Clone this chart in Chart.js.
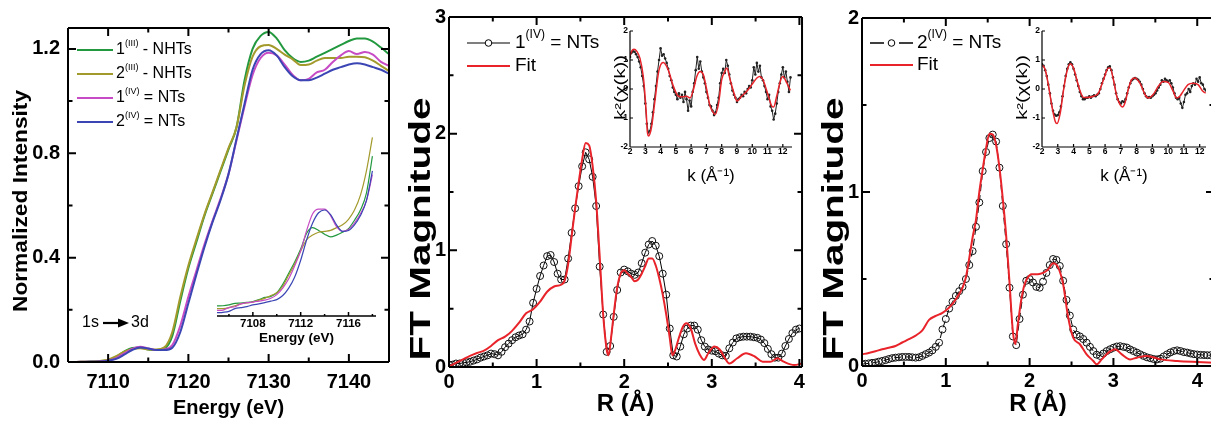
<!DOCTYPE html>
<html>
<head>
<meta charset="utf-8">
<script src="https://cdn.jsdelivr.net/npm/chart.js@4.4.1/dist/chart.umd.min.js"></script>
<style>
  html, body { margin: 0; padding: 0; background: #fff; width: 1211px; height: 421px; overflow: hidden; position: relative; }
  canvas { position: absolute; }
</style>
</head>
<body>
<canvas id="c1" width="398" height="421" style="left:0;top:0"></canvas>
<canvas id="c2" width="408" height="421" style="left:400px;top:0"></canvas>
<canvas id="c3" width="414" height="421" style="left:806px;top:0"></canvas>
<canvas id="c1i" width="190" height="230" style="left:200px;top:120px"></canvas>
<canvas id="c2i" width="210" height="175" style="left:590px;top:20px"></canvas>
<canvas id="c3i" width="215" height="175" style="left:1000px;top:20px"></canvas>
<script>
// ---- panel 1: XANES, normalized intensity vs energy (eV)
const energy = [7105, 7106, 7107, 7108, 7109, 7110, 7111, 7112, 7113, 7114, 7115, 7116, 7117, 7118, 7119, 7120,
  7121, 7122, 7123, 7124, 7125, 7126, 7127, 7128, 7129, 7130, 7131, 7132, 7133, 7134, 7135, 7136, 7137, 7138,
  7139, 7140, 7141, 7142, 7143, 7144, 7145];
const nhts1 = [0.000, 0.000, 0.001, 0.002, 0.003, 0.008, 0.020, 0.040, 0.054, 0.056, 0.048, 0.046, 0.051, 0.100,
  0.235, 0.360, 0.460, 0.560, 0.645, 0.730, 0.815, 0.900, 1.080, 1.200, 1.250, 1.265, 1.240, 1.195, 1.165, 1.150,
  1.155, 1.170, 1.185, 1.200, 1.215, 1.230, 1.240, 1.240, 1.228, 1.205, 1.180];
const nhts2 = [0.000, 0.000, 0.001, 0.002, 0.004, 0.009, 0.022, 0.040, 0.050, 0.053, 0.048, 0.048, 0.056, 0.115,
  0.250, 0.370, 0.470, 0.565, 0.650, 0.735, 0.820, 0.900, 1.060, 1.170, 1.210, 1.215, 1.200, 1.178, 1.160, 1.138,
  1.140, 1.155, 1.165, 1.165, 1.165, 1.170, 1.170, 1.168, 1.155, 1.135, 1.115];
const nts1 = [0.000, 0.000, 0.001, 0.001, 0.002, 0.006, 0.015, 0.033, 0.050, 0.058, 0.052, 0.046, 0.048, 0.065,
  0.140, 0.250, 0.350, 0.450, 0.540, 0.625, 0.720, 0.850, 0.980, 1.100, 1.165, 1.185, 1.175, 1.140, 1.100, 1.080,
  1.085, 1.110, 1.120, 1.150, 1.175, 1.192, 1.180, 1.188, 1.178, 1.150, 1.135];
const nts2 = [0.000, 0.000, 0.000, 0.001, 0.002, 0.005, 0.012, 0.028, 0.046, 0.056, 0.052, 0.046, 0.046, 0.055,
  0.115, 0.225, 0.335, 0.440, 0.535, 0.620, 0.720, 0.855, 0.990, 1.120, 1.180, 1.195, 1.175, 1.130, 1.095, 1.080,
  1.080, 1.090, 1.105, 1.120, 1.130, 1.140, 1.145, 1.140, 1.130, 1.120, 1.105];
const energyTicks = [7110, 7120, 7130, 7140];
const intensityTicks = [0, 0.4, 0.8, 1.2];

// panel 1 inset: pre-edge region
const preEnergy = [7105, 7105.5, 7106, 7106.5, 7107, 7107.5, 7108, 7108.5, 7109, 7109.5, 7110, 7110.5, 7111,
  7111.5, 7112, 7112.5, 7113, 7113.5, 7114, 7114.5, 7115, 7115.5, 7116, 7116.5, 7117, 7117.5, 7118];
const preNhts1 = [0.0054, 0.0055, 0.006, 0.0068, 0.007, 0.0073, 0.0078, 0.0088, 0.010, 0.0105, 0.0125, 0.017,
  0.023, 0.029, 0.036, 0.0445, 0.0475, 0.046, 0.044, 0.0425, 0.0435, 0.045, 0.047, 0.0515, 0.057, 0.066, 0.086];
const preNhts2 = [0.004, 0.004, 0.0045, 0.0055, 0.0065, 0.007, 0.0075, 0.0085, 0.0095, 0.011, 0.0125, 0.016,
  0.022, 0.028, 0.035, 0.041, 0.0435, 0.045, 0.0455, 0.046, 0.0475, 0.049, 0.052, 0.057, 0.065, 0.078, 0.096];
const preNts1 = [0.003, 0.0032, 0.0045, 0.005, 0.0065, 0.0072, 0.0075, 0.008, 0.0085, 0.0095, 0.0115, 0.015,
  0.020, 0.027, 0.035, 0.046, 0.055, 0.0575, 0.0575, 0.054, 0.048, 0.0455, 0.0465, 0.050, 0.055, 0.062, 0.076];
const preNts2 = [0.0018, 0.002, 0.0025, 0.004, 0.0045, 0.005, 0.006, 0.0065, 0.0072, 0.008, 0.0088, 0.011,
  0.015, 0.021, 0.030, 0.041, 0.050, 0.0555, 0.057, 0.0545, 0.049, 0.0455, 0.046, 0.049, 0.054, 0.062, 0.078];
const preTicks = [7108, 7112, 7116];

// ---- panels 2 and 3: FT magnitude vs R (Å)
const rGrid = [0, 0.04, 0.08, 0.12, 0.16, 0.2, 0.24, 0.28, 0.32, 0.36, 0.4, 0.44, 0.48, 0.52, 0.56, 0.6, 0.64,
  0.68, 0.72, 0.76, 0.8, 0.84, 0.88, 0.92, 0.96, 1, 1.04, 1.08, 1.12, 1.16, 1.2, 1.24, 1.28, 1.32, 1.36, 1.4, 1.44,
  1.48, 1.52, 1.56, 1.6, 1.64, 1.68, 1.72, 1.76, 1.8, 1.84, 1.88, 1.92, 1.96, 2, 2.04, 2.08, 2.12, 2.16, 2.2, 2.24,
  2.28, 2.32, 2.36, 2.4, 2.44, 2.48, 2.52, 2.56, 2.6, 2.64, 2.68, 2.72, 2.76, 2.8, 2.84, 2.88, 2.92, 2.96, 3, 3.04,
  3.08, 3.12, 3.16, 3.2, 3.24, 3.28, 3.32, 3.36, 3.4, 3.44, 3.48, 3.52, 3.56, 3.6, 3.64, 3.68, 3.72, 3.76, 3.8,
  3.84, 3.88, 3.92, 3.96, 4, 4.04, 4.08, 4.12, 4.16];
const ftNts1 = [0.02, 0.02, 0.03, 0.03, 0.035, 0.04, 0.045, 0.055, 0.065, 0.08, 0.09, 0.1, 0.115, 0.11, 0.1, 0.13,
  0.17, 0.2, 0.23, 0.255, 0.27, 0.28, 0.32, 0.39, 0.55, 0.67, 0.78, 0.87, 0.95, 0.96, 0.9, 0.8, 0.75, 0.75, 0.93,
  1.15, 1.36, 1.55, 1.72, 1.84, 1.78, 1.63, 1.38, 0.86, 0.45, 0.13, 0.18, 0.43, 0.66, 0.81, 0.835, 0.82, 0.8,
  0.79, 0.81, 0.89, 0.98, 1.05, 1.08, 1.04, 0.95, 0.8, 0.62, 0.33, 0.1, 0.09, 0.175, 0.28, 0.33, 0.355, 0.355,
  0.32, 0.23, 0.175, 0.15, 0.14, 0.135, 0.115, 0.1, 0.095, 0.16, 0.21, 0.245, 0.255, 0.26, 0.26, 0.26, 0.255,
  0.25, 0.235, 0.205, 0.155, 0.11, 0.08, 0.08, 0.115, 0.18, 0.24, 0.29, 0.32, 0.33];
const fitR1 = [0, 0.08, 0.16, 0.24, 0.32, 0.40, 0.48, 0.56, 0.64, 0.72, 0.80, 0.88, 0.96, 1.04, 1.12, 1.20, 1.28,
  1.32, 1.36, 1.40, 1.44, 1.48, 1.52, 1.56, 1.60, 1.64, 1.68, 1.72, 1.76, 1.80, 1.82, 1.85, 1.88, 1.92, 1.96, 2.00,
  2.04, 2.08, 2.12, 2.16, 2.20, 2.24, 2.28, 2.32, 2.36, 2.40, 2.44, 2.48, 2.52, 2.55, 2.58, 2.62, 2.67, 2.71, 2.76,
  2.81, 2.86, 2.91, 2.96, 3.03, 3.09, 3.15, 3.20, 3.29, 3.39, 3.49, 3.58, 3.67, 3.75, 3.82, 3.94, 4.03];
const fitM1 = [0.005, 0.035, 0.065, 0.095, 0.12, 0.14, 0.18, 0.23, 0.26, 0.31, 0.38, 0.46, 0.495, 0.56, 0.645,
  0.69, 0.705, 0.74, 0.88, 1.12, 1.36, 1.58, 1.78, 1.92, 1.9, 1.72, 1.42, 0.95, 0.45, 0.15, 0.1, 0.25, 0.45, 0.68,
  0.8, 0.83, 0.8, 0.77, 0.735, 0.75, 0.8, 0.865, 0.93, 0.93, 0.87, 0.76, 0.62, 0.45, 0.25, 0.1, 0.14, 0.24, 0.345,
  0.375, 0.33, 0.2, 0.11, 0.06, 0.118, 0.175, 0.15, 0.075, 0.03, 0.075, 0.118, 0.09, 0.046, 0.046, 0.075, 0.046,
  0.017, 0.03];
const ftNts2 = [0.010, 0.013, 0.015, 0.018, 0.020, 0.025, 0.029, 0.034, 0.040, 0.045, 0.048, 0.050, 0.052, 0.052,
  0.052, 0.050, 0.048, 0.050, 0.058, 0.068, 0.077, 0.090, 0.110, 0.134, 0.210, 0.270, 0.330, 0.370, 0.403, 0.430,
  0.455, 0.500, 0.580, 0.660, 0.800, 0.940, 1.120, 1.230, 1.310, 1.330, 1.290, 1.140, 0.920, 0.700, 0.450, 0.170,
  0.120, 0.270, 0.410, 0.490, 0.500, 0.480, 0.455, 0.450, 0.485, 0.535, 0.580, 0.615, 0.610, 0.575, 0.490, 0.380,
  0.290, 0.210, 0.180, 0.170, 0.155, 0.134, 0.110, 0.086, 0.065, 0.058, 0.072, 0.086, 0.096, 0.105, 0.112, 0.114,
  0.110, 0.106, 0.095, 0.086, 0.077, 0.067, 0.058, 0.050, 0.045, 0.040, 0.038, 0.042, 0.055, 0.067, 0.078, 0.086,
  0.090, 0.086, 0.080, 0.077, 0.072, 0.068, 0.066, 0.064, 0.063, 0.062, 0.062];
const fitR2 = [0.00, 0.08, 0.16, 0.24, 0.32, 0.40, 0.48, 0.56, 0.64, 0.72, 0.80, 0.88, 0.96, 1.04, 1.12, 1.20,
  1.24, 1.28, 1.32, 1.36, 1.40, 1.44, 1.48, 1.52, 1.56, 1.60, 1.64, 1.68, 1.72, 1.76, 1.80, 1.83, 1.86, 1.90, 1.94,
  1.98, 2.02, 2.10, 2.16, 2.22, 2.28, 2.34, 2.40, 2.46, 2.52, 2.60, 2.68, 2.76, 2.80, 2.86, 2.94, 3.02, 3.10, 3.20,
  3.28, 3.40, 3.56, 3.76, 4.00, 4.20];
const fitM2 = [0.067, 0.075, 0.085, 0.096, 0.105, 0.115, 0.135, 0.154, 0.175, 0.205, 0.265, 0.288, 0.305, 0.336,
  0.384, 0.451, 0.51, 0.62, 0.74, 0.84, 1.0, 1.13, 1.25, 1.335, 1.33, 1.27, 1.14, 0.96, 0.75, 0.48, 0.2, 0.125,
  0.24, 0.38, 0.47, 0.51, 0.528, 0.528, 0.535, 0.555, 0.59, 0.567, 0.47, 0.28, 0.163, 0.125, 0.067, 0.029, 0.01,
  0.038, 0.077, 0.096, 0.067, 0.038, 0.048, 0.058, 0.038, 0.029, 0.023, 0.019];
const rTicks = [0, 1, 2, 3, 4];
const ftTicks1 = [0, 1, 2, 3];
const ftTicks2 = [0, 1, 2];

// ---- insets of panels 2 and 3: k^2 chi(k) vs k
const kGrid = [2.0, 2.1, 2.2, 2.3, 2.4, 2.5, 2.6, 2.7, 2.8, 2.9, 3.0, 3.1, 3.2, 3.3, 3.4, 3.5, 3.6, 3.7, 3.8, 3.9,
  4.0, 4.1, 4.2, 4.3, 4.4, 4.5, 4.6, 4.7, 4.8, 4.9, 5.0, 5.1, 5.2, 5.3, 5.4, 5.5, 5.6, 5.7, 5.8, 5.9, 6.0, 6.1, 6.2,
  6.3, 6.4, 6.5, 6.6, 6.7, 6.8, 6.9, 7.0, 7.1, 7.2, 7.3, 7.4, 7.5, 7.6, 7.7, 7.8, 7.9, 8.0, 8.1, 8.2, 8.3, 8.4,
  8.5, 8.6, 8.7, 8.8, 8.9, 9.0, 9.1, 9.2, 9.3, 9.4, 9.5, 9.6, 9.7, 9.8, 9.9, 10.0, 10.1, 10.2, 10.3, 10.4, 10.5,
  10.6, 10.7, 10.8, 10.9, 11.0, 11.1, 11.2, 11.3, 11.4, 11.5, 11.6, 11.7, 11.8, 11.9, 12.0, 12.1, 12.2, 12.3, 12.4,
  12.5];
const chiNts1 = [1.1, 1.25, 1.3, 1.28, 1.2, 1.1, 0.95, 0.75, 0.45, 0.1, -0.5, -1.2, -1.5, -1.45, -1.2, -0.8, -0.35,
  0.1, 0.6, 1.0, 1.4, 1.15, 1.2, 1.05, 0.9, 0.7, 0.45, 0.3, 0.05, -0.1, -0.2, -0.35, -0.15, -0.3, -0.2, -0.45, -0.1,
  -0.35, -0.75, -0.4, -0.6, -0.1, 0.2, 0.65, 1.1, 0.7, 0.95, 0.6, 0.4, 0.2, -0.1, -0.3, -0.55, -0.6, -0.75, -0.9,
  -0.8, -0.55, -0.3, 0.2, 0.55, 0.7, 0.55, 1.0, 0.8, 0.5, 0.2, -0.05, -0.2, -0.3, -0.45, -0.35, -0.3, -0.2, -0.25,
  -0.1, -0.15, 0.0, 0.1, 0.05, 0.3, 0.75, 0.5, 0.9, 0.6, 0.8, 0.4, 0.3, 0.1, -0.1, -0.35, -0.2, -0.6, -0.75, -1.05,
  -0.85, -0.5, -0.1, 0.2, 0.5, 0.75, 0.4, 0.6, 0.25, -0.1, 0.4];
const chiFitK1 = [2.0, 2.1, 2.26, 2.45, 2.65, 2.87, 3.05, 3.13, 3.2, 3.3, 3.42, 3.64, 3.86, 4.07, 4.18, 4.5, 4.84,
  5.17, 5.45, 5.7, 5.93, 6.15, 6.37, 6.6, 6.8, 7.0, 7.24, 7.46, 7.57, 7.8, 8.0, 8.2, 8.33, 8.55, 8.87, 9.0, 9.3,
  9.64, 9.97, 10.3, 10.5, 10.7, 11.06, 11.28, 11.4, 11.6, 11.83, 12.0, 12.27, 12.5];
const chiFit1 = [1.15, 1.3, 1.37, 1.3, 1.06, 0.43, -0.71, -1.45, -1.62, -1.55, -1.28, -0.37, 0.55, 0.89, 0.91,
  0.66, 0.09, -0.25, -0.27, -0.25, -0.31, -0.02, 0.43, 0.6, 0.49, 0.03, -0.59, -0.82, -0.88, -0.48, 0.32, 0.6, 0.72,
  0.32, -0.25, -0.42, -0.25, -0.08, 0.15, 0.38, 0.43, 0.32, -0.25, -0.59, -0.62, -0.25, 0.26, 0.43, 0.2, -0.05];
const chiNts2 = [0.85, 0.8, 0.65, 0.45, 0.15, -0.15, -0.5, -0.75, -0.88, -0.92, -0.9, -0.8, -0.6, -0.25, 0.1, 0.45,
  0.7, 0.85, 0.92, 0.85, 0.7, 0.5, 0.3, 0.1, -0.1, -0.25, -0.35, -0.35, -0.3, -0.3, -0.25, -0.3, -0.25, -0.22,
  -0.25, -0.2, -0.15, 0.0, 0.2, 0.35, 0.5, 0.65, 0.75, 0.78, 0.65, 0.4, 0.15, -0.15, -0.35, -0.45, -0.5, -0.42,
  -0.45, -0.35, -0.15, 0.05, 0.2, 0.3, 0.35, 0.38, 0.35, 0.32, 0.25, 0.15, 0.0, -0.15, -0.25, -0.3, -0.28, -0.3,
  -0.25, -0.2, -0.15, -0.05, 0.05, 0.15, 0.3, 0.25, 0.35, 0.3, 0.25, 0.3, 0.2, 0.05, -0.15, -0.3, -0.35, -0.3, -0.5,
  -0.65, -0.45, -0.2, -0.15, 0.0, -0.1, 0.1, 0.2, 0.15, 0.35, 0.25, 0.4, 0.2, 0.15, 0.0, -0.05];
const chiFitK2 = [2.0, 2.21, 2.42, 2.63, 2.84, 2.95, 3.16, 3.37, 3.58, 3.79, 4.0, 4.21, 4.42, 4.63, 4.84, 5.26,
  5.58, 5.9, 6.21, 6.32, 6.53, 6.74, 6.95, 7.1, 7.26, 7.47, 7.68, 7.9, 8.21, 8.53, 8.74, 9.05, 9.37, 9.68, 10.0,
  10.32, 10.53, 10.74, 10.95, 11.26, 11.58, 11.9, 12.2, 12.38];
const chiFit2 = [0.83, 0.66, 0.09, -0.6, -1.12, -1.19, -0.82, -0.02, 0.6, 0.87, 0.72, 0.32, -0.08, -0.29, -0.29,
  -0.25, -0.14, 0.32, 0.72, 0.72, 0.32, -0.25, -0.54, -0.62, -0.48, -0.02, 0.32, 0.38, 0.2, -0.19, -0.31, -0.19,
  0.09, 0.26, 0.23, -0.08, -0.31, -0.25, -0.08, 0.15, 0.2, 0.15, -0.08, -0.14];
const kTicks = [2, 3, 4, 5, 6, 7, 8, 9, 10, 11, 12];
const chiTicks = [-2, -1, 0, 1, 2];

const FONT = "'Liberation Sans', Arial, Helvetica, sans-serif";
Chart.defaults.font.family = FONT;
Chart.defaults.color = '#000';

const GREEN = '#23993f', GOLD = '#a39a2c', PINK = '#c64bc4', BLUE = '#3b46b4', RED = '#e8232a';

function pts(xs, ys) { return ys.map((y, i) => ({ x: xs[i], y })); }
function fixTicks(vals) { return s => { s.ticks = vals.map(v => ({ value: v })); }; }

// box and inward tick marks
const framePlugin = {
  id: 'frame',
  afterDraw(chart, args, o) {
    const { ctx, chartArea: a, scales: { x, y } } = chart;
    ctx.save();
    ctx.strokeStyle = '#000';
    ctx.lineWidth = o.lw;
    ctx.beginPath();
    if (o.sides.includes('l')) { ctx.moveTo(a.left, a.top); ctx.lineTo(a.left, a.bottom); }
    if (o.sides.includes('b')) { ctx.moveTo(a.left, a.bottom); ctx.lineTo(a.right, a.bottom); }
    if (o.sides.includes('r')) { ctx.moveTo(a.right, a.top); ctx.lineTo(a.right, a.bottom); }
    if (o.sides.includes('t')) { ctx.moveTo(a.left, a.top); ctx.lineTo(a.right, a.top); }
    const xMark = (v, len) => {
      const px = x.getPixelForValue(v);
      if (o.sides.includes('b')) { ctx.moveTo(px, a.bottom); ctx.lineTo(px, a.bottom - len); }
      if (o.sides.includes('t')) { ctx.moveTo(px, a.top); ctx.lineTo(px, a.top + len); }
    };
    const yMark = (v, len) => {
      const py = y.getPixelForValue(v);
      if (o.sides.includes('l')) { ctx.moveTo(a.left, py); ctx.lineTo(a.left + len, py); }
      if (o.sides.includes('r')) { ctx.moveTo(a.right, py); ctx.lineTo(a.right - len, py); }
    };
    if (o.xMinor) for (let v = Math.ceil(x.min / o.xMinor) * o.xMinor; v <= x.max + 1e-9; v += o.xMinor) xMark(v, o.minor);
    if (o.yMinor) for (let v = Math.ceil(y.min / o.yMinor) * o.yMinor; v <= y.max + 1e-9; v += o.yMinor) yMark(v, o.minor);
    x.ticks.forEach(t => xMark(t.value, o.major));
    if (o.yTicks !== false) y.ticks.forEach(t => yMark(t.value, o.major));
    ctx.stroke();
    ctx.restore();
  }
};

// legend with superscripts
const legendPlugin = {
  id: 'sketchLegend',
  afterDraw(chart, args, o) {
    if (!o.items) return;
    const ctx = chart.ctx;
    o.items.forEach((it, i) => {
      const y = o.y + i * o.gap;
      ctx.save();
      ctx.strokeStyle = it.color;
      ctx.lineWidth = it.lw;
      ctx.setLineDash(it.dash || []);
      ctx.beginPath();
      ctx.moveTo(o.x, y);
      ctx.lineTo(o.x + o.len, y);
      ctx.stroke();
      ctx.setLineDash([]);
      if (it.marker) {
        ctx.beginPath();
        ctx.arc(o.x + o.len / 2, y, 3.3, 0, Math.PI * 2);
        ctx.fillStyle = '#fff';
        ctx.fill();
        ctx.lineWidth = 1;
        ctx.strokeStyle = '#000';
        ctx.stroke();
      }
      let tx = o.x + o.len + o.textGap;
      ctx.fillStyle = '#000';
      ctx.textBaseline = 'middle';
      it.parts.forEach(p => {
        ctx.font = p.sup ? o.supFont : o.font;
        ctx.fillText(p.t, tx, p.sup ? y - o.supShift : y);
        tx += ctx.measureText(p.t).width;
      });
      ctx.restore();
    });
  }
};

// rotated y-axis title, stretched to the length it has in the figure
const vTitlePlugin = {
  id: 'vtitle',
  afterDraw(chart, args, o) {
    if (!o.text) return;
    const ctx = chart.ctx;
    ctx.save();
    ctx.translate(o.cx, o.cy);
    ctx.rotate(-Math.PI / 2);
    ctx.font = o.font;
    const w = ctx.measureText(o.text).width;
    ctx.scale(o.len / w, 1);
    ctx.fillStyle = '#000';
    ctx.textAlign = 'center';
    ctx.textBaseline = 'middle';
    ctx.fillText(o.text, 0, 0);
    ctx.restore();
  }
};

// "1s -> 3d" note in panel 1
const notePlugin = {
  id: 'note',
  afterDraw(chart, args, o) {
    if (!o.y) return;
    const ctx = chart.ctx;
    ctx.save();
    ctx.fillStyle = '#000';
    ctx.strokeStyle = '#000';
    ctx.font = '16px ' + FONT;
    ctx.textBaseline = 'middle';
    ctx.fillText('1s', o.x, o.y);
    ctx.fillText('3d', o.x + 49, o.y);
    ctx.lineWidth = 2.2;
    ctx.beginPath();
    ctx.moveTo(o.x + 21, o.y);
    ctx.lineTo(o.x + 38, o.y);
    ctx.stroke();
    ctx.beginPath();
    ctx.moveTo(o.x + 36, o.y - 4.5);
    ctx.lineTo(o.x + 47, o.y);
    ctx.lineTo(o.x + 36, o.y + 4.5);
    ctx.closePath();
    ctx.fill();
    ctx.restore();
  }
};

const plugins = [framePlugin, legendPlugin, vTitlePlugin, notePlugin];

function lineSet(xs, ys, color, lw, order, extra) {
  return Object.assign({
    data: pts(xs, ys), showLine: true, borderColor: color, borderWidth: lw,
    pointRadius: 0, cubicInterpolationMode: 'monotone', order
  }, extra || {});
}

function circleSet(xs, ys, dash, order) {
  return {
    data: pts(xs, ys), showLine: true, borderColor: '#000', borderWidth: 1, borderDash: dash,
    pointRadius: 3.5, pointBorderWidth: 1, pointBorderColor: '#111',
    pointBackgroundColor: 'rgba(0,0,0,0)', order
  };
}

function axis(min, max, ticks, opts) {
  return {
    type: 'linear', min, max,
    afterBuildTicks: fixTicks(ticks),
    afterFit: opts.fit,
    display: opts.display !== false,
    grid: { display: false, drawTicks: false },
    border: { display: false },
    ticks: {
      font: opts.tickFont, padding: opts.pad, maxRotation: 0, autoSkip: false, color: '#000',
      callback: opts.fmt || (v => String(v))
    },
    title: { display: !!opts.title, text: opts.title, font: opts.titleFont, padding: 0, color: '#000' }
  };
}

function baseOptions(padding, pluginOpts, scales) {
  return {
    responsive: false, animation: false, events: [],
    layout: { padding },
    plugins: Object.assign({ legend: { display: false }, tooltip: { enabled: false } }, pluginOpts),
    scales
  };
}

const bold = size => ({ size, weight: 'bold' });

// panel 1
new Chart(document.getElementById('c1'), {
  type: 'scatter',
  data: { datasets: [
    lineSet(energy, nhts1, GREEN, 2, 4),
    lineSet(energy, nhts2, GOLD, 2, 3),
    lineSet(energy, nts1, PINK, 2, 2),
    lineSet(energy, nts2, BLUE, 2, 1)
  ] },
  options: baseOptions({ left: 8, top: 28, right: 9, bottom: 1 }, {
    frame: { lw: 2, sides: 'lbrt', major: 8, minor: 4.5, xMinor: 5, yMinor: 0.2 },
    sketchLegend: {
      x: 77, y: 50, gap: 24, len: 36, textGap: 3, font: '16px ' + FONT, supFont: '9px ' + FONT, supShift: 6,
      items: [
        { color: GREEN, lw: 2, parts: [{ t: '1' }, { t: '(III)', sup: true }, { t: ' - NHTs' }] },
        { color: GOLD, lw: 2, parts: [{ t: '2' }, { t: '(III)', sup: true }, { t: ' - NHTs' }] },
        { color: PINK, lw: 2, parts: [{ t: '1' }, { t: '(IV)', sup: true }, { t: ' = NTs' }] },
        { color: BLUE, lw: 2, parts: [{ t: '2' }, { t: '(IV)', sup: true }, { t: ' = NTs' }] }
      ]
    },
    vtitle: { text: 'Normalized Intensity', font: 'bold 20px ' + FONT, cx: 21, cy: 201, len: 222 },
    note: { x: 82, y: 323 }
  }, {
    x: axis(7105, 7145, energyTicks, { fit: s => { s.height = 58; }, tickFont: bold(20), pad: 8,
      title: 'Energy (eV)', titleFont: bold(20) }),
    y: axis(0, 1.28, intensityTicks, { fit: s => { s.width = 60; }, tickFont: bold(20), pad: 8,
      fmt: v => v.toFixed(1) })
  }),
  plugins
});

// panel 1 inset
new Chart(document.getElementById('c1i'), {
  type: 'scatter',
  data: { datasets: [
    lineSet(preEnergy, preNhts1, GREEN, 1.2, 4),
    lineSet(preEnergy, preNhts2, GOLD, 1.2, 3),
    lineSet(preEnergy, preNts1, PINK, 1.2, 2),
    lineSet(preEnergy, preNts2, BLUE, 1.2, 1)
  ] },
  options: baseOptions({ left: 17, top: 10, right: 14, bottom: 4 }, {
    frame: { lw: 1.5, sides: 'b', major: 4, minor: 2, xMinor: 2, yTicks: false }
  }, {
    x: axis(7105, 7118.3, preTicks, { fit: s => { s.height = 30; }, tickFont: bold(11.5), pad: 1,
      title: 'Energy (eV)', titleFont: bold(13.5) }),
    y: axis(0, 0.1, [0], { display: false })
  }),
  plugins
});

// panel 2
new Chart(document.getElementById('c2'), {
  type: 'scatter',
  data: { datasets: [
    lineSet(fitR1, fitM1, RED, 2, 1),
    circleSet(rGrid, ftNts1, [], 2)
  ] },
  options: baseOptions({ left: 1.6, top: 17, right: 3, bottom: 2 }, {
    frame: { lw: 2, sides: 'lbrt', major: 8, minor: 4.5, xMinor: 0.5, yMinor: 0.5 },
    sketchLegend: {
      x: 67, y: 43, gap: 23, len: 43, textGap: 5, font: '19px ' + FONT, supFont: '12px ' + FONT, supShift: 8,
      items: [
        { color: '#000', lw: 1.2, marker: true, parts: [{ t: '1' }, { t: '(IV)', sup: true }, { t: ' = NTs' }] },
        { color: RED, lw: 2, parts: [{ t: 'Fit' }] }
      ]
    },
    vtitle: { text: 'FT Magnitude', font: 'bold 29px ' + FONT, cx: 22, cy: 229, len: 263 }
  }, {
    x: axis(0, 4.03, rTicks, { fit: s => { s.height = 52; }, tickFont: bold(20), pad: 3,
      title: 'R (Å)', titleFont: bold(24) }),
    y: axis(0, 3, ftTicks1, { fit: s => { s.width = 47.4; }, tickFont: bold(20), pad: 3 })
  }),
  plugins
});

// panel 3
new Chart(document.getElementById('c3'), {
  type: 'scatter',
  data: { datasets: [
    lineSet(fitR2, fitM2, RED, 2, 1),
    circleSet(rGrid, ftNts2, [7, 4], 2)
  ] },
  options: baseOptions({ left: 8.6, top: 18, right: 6, bottom: 2 }, {
    frame: { lw: 2, sides: 'lbrt', major: 8, minor: 4.5, xMinor: 0.5, yMinor: 0.5 },
    sketchLegend: {
      x: 64, y: 43, gap: 22, len: 43, textGap: 4, font: '19px ' + FONT, supFont: '12px ' + FONT, supShift: 8,
      items: [
        { color: '#000', lw: 1.5, dash: [14, 15], marker: true, parts: [{ t: '2' }, { t: '(IV)', sup: true }, { t: ' = NTs' }] },
        { color: RED, lw: 2, parts: [{ t: 'Fit' }] }
      ]
    },
    vtitle: { text: 'FT Magnitude', font: 'bold 29px ' + FONT, cx: 29, cy: 229, len: 263 }
  }, {
    x: axis(0, 4.2, rTicks, { fit: s => { s.height = 53; }, tickFont: bold(20), pad: 3,
      title: 'R (Å)', titleFont: bold(24) }),
    y: axis(0, 2, ftTicks2, { fit: s => { s.width = 47.4; }, tickFont: bold(20), pad: 3 })
  }),
  plugins
});

// k-space insets
function kInset(id, dataY, fitK, fitY, kMax, padding, yWidth, titleX) {
  new Chart(document.getElementById(id), {
    type: 'scatter',
    data: { datasets: [
      lineSet(fitK, fitY, RED, 1.5, 1),
      { data: pts(kGrid, dataY), showLine: true, borderColor: '#222', borderWidth: 1, pointRadius: 1.3,
        pointBackgroundColor: '#222', pointBorderWidth: 0, order: 2 }
    ] },
    options: baseOptions(padding, {
      frame: { lw: 1.2, sides: 'lb', major: 3, minor: 0 },
      vtitle: { text: 'k²(χ(k))', font: '15px ' + FONT, cx: titleX, cy: 67.5, len: 65 }
    }, {
      x: axis(2, kMax, kTicks, { fit: s => { s.height = 39.2; }, tickFont: bold(8.5), pad: 0,
        title: 'k (Å⁻¹)', titleFont: { size: 17 } }),
      y: axis(-2, 2, chiTicks, { fit: s => { s.width = yWidth; }, tickFont: bold(8.5), pad: 2 })
    }),
    plugins
  });
}
kInset('c2i', chiNts1, chiFitK1, chiFit1, 12.6, { left: 21.4, top: 11, right: 8, bottom: 8.8 }, 18.6, 31);
kInset('c3i', chiNts2, chiFitK2, chiFit2, 12.4, { left: 14.4, top: 11, right: 9, bottom: 8.8 }, 27.6, 23);
</script>
</body>
</html>
